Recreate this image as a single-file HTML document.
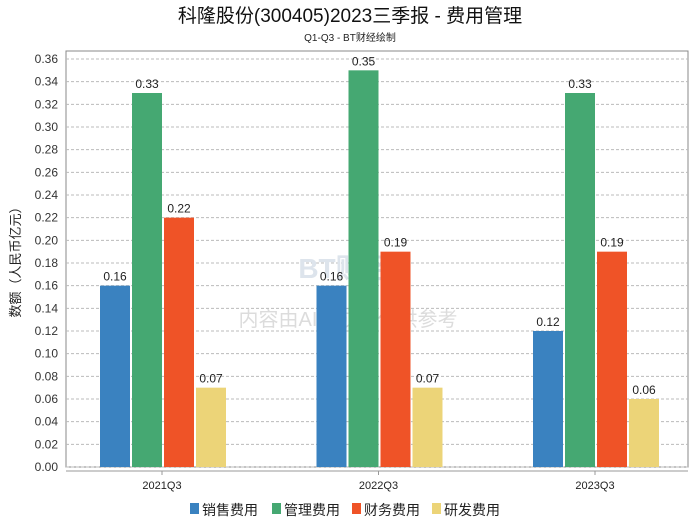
<!DOCTYPE html>
<html><head><meta charset="utf-8">
<style>
body{margin:0;background:#fff;}
svg text{font-family:"Liberation Sans","Noto Sans CJK SC",sans-serif;}
</style></head>
<body>
<svg id="chart" width="700" height="524" xmlns="http://www.w3.org/2000/svg">
<rect width="700" height="524" fill="#fff"/>
<text x="350" y="22" text-anchor="middle" font-size="19" fill="#111">科隆股份(300405)2023三季报 - 费用管理</text>
<text x="350" y="41" text-anchor="middle" font-size="10" fill="#222">Q1-Q3 - BT财经绘制</text>
<rect x="66" y="51" width="622" height="416" fill="none" stroke="#888"/>
<g id="grid"></g>
<text x="345" y="278" text-anchor="middle" font-size="28" fill="#dde4ec" font-weight="bold">BT财经</text>
<text x="348" y="326" text-anchor="middle" font-size="20" fill="#dcdcdc">内容由AI生成，仅供参考</text>
<g id="bars"></g>
<line x1="66" y1="471" x2="688" y2="471" stroke="#999"/>
<text transform="translate(20,259) rotate(-90)" text-anchor="middle" font-size="13" fill="#222">数额（人民币亿元）</text>
<g id="legend"></g>
</svg>
<script>
const categories=["2021Q3","2022Q3","2023Q3"];
const seriesNames=["销售费用","管理费用","财务费用","研发费用"];
const sales=[0.16,0.16,0.12];
const admin=[0.33,0.35,0.33];
const finance=[0.22,0.19,0.19];
const rnd=[0.07,0.07,0.06];
const yTicks=[0,0.02,0.04,0.06,0.08,0.10,0.12,0.14,0.16,0.18,0.20,0.22,0.24,0.26,0.28,0.30,0.32,0.34,0.36];
const colors=["#3a82c0","#45a872","#ef5327","#ecd478"];
const series=[sales,admin,finance,rnd];
const NS="http://www.w3.org/2000/svg";
const y=v=>467-v*(408/0.36);
const xc=i=>162+i*216.5;
function mk(t,a,p){const e=document.createElementNS(NS,t);for(const k in a)e.setAttribute(k,a[k]);p.appendChild(e);return e;}
const grid=document.getElementById('grid');
yTicks.forEach(t=>{
 const l=mk('line',{x1:66,x2:688,y1:y(t),y2:y(t),stroke:'#bbb','stroke-dasharray':'3,2'},grid);
 
 
 const tx=mk('text',{x:58,y:y(t)+4,'text-anchor':'end','font-size':12,fill:'#333'},grid);
 tx.textContent=t.toFixed(2);
 
 
});
const bars=document.getElementById('bars');
categories.forEach((c,i)=>{
 series.forEach((s,j)=>{
  const x=xc(i)-62+j*32;
  const r=mk('rect',{x:x,y:y(s[i]),width:30,height:467-y(s[i]),fill:colors[j]},bars);
  
  
  const tx=mk('text',{x:x+15,y:y(s[i])-5,'text-anchor':'middle','font-size':12,fill:'#222'},bars);
  tx.textContent=s[i].toFixed(2);
  
  
 });
 mk('line',{x1:xc(i),x2:xc(i),y1:471,y2:475,stroke:'#999'},bars);
 const tx=mk('text',{x:xc(i),y:489,'text-anchor':'middle','font-size':11,fill:'#222'},bars);
 tx.textContent=c;
 
 
});
const lg=document.getElementById('legend');
const lx=[190,272,352,432];
seriesNames.forEach((n,j)=>{
 const g=mk('g',{},lg);
 
 
 mk('rect',{x:lx[j],y:503,width:9,height:11,fill:colors[j]},g);
 const t=mk('text',{x:lx[j]+12,y:515,'font-size':14,fill:'#222'},g);
 t.textContent=n;
});
</script>
</body></html>
